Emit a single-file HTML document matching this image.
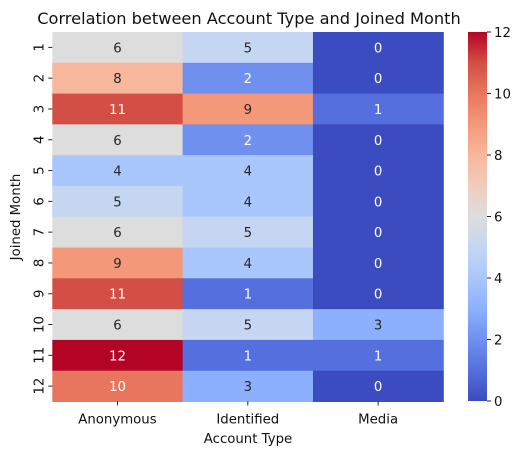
<!DOCTYPE html>
<html><head><meta charset="utf-8"><style>
body{margin:0;background:#fff;font-family:"Liberation Sans","DejaVu Sans",sans-serif}
svg text{font-family:"DejaVu Sans","Liberation Sans",sans-serif}
</style></head><body>
<svg id="chart" width="530" height="455" xmlns="http://www.w3.org/2000/svg">
<text x="249" y="24" text-anchor="middle" font-size="16.2" fill="#111">Correlation between Account Type and Joined Month</text>
<g id="cells"></g>
<g id="axes"></g>
<defs><linearGradient id="cw" x1="0" y1="1" x2="0" y2="0"></linearGradient></defs>
<rect x="468" y="32" width="19" height="369" fill="url(#cw)"/>
<g id="cbar"></g>
<text x="248" y="443" text-anchor="middle" font-size="13.3" fill="#111">Account Type</text>
<text transform="translate(20,217) rotate(-90)" text-anchor="middle" font-size="13.3" fill="#111">Joined Month</text>
</svg>
<script>
const categories = ["Anonymous","Identified","Media"];
const months = ["1","2","3","4","5","6","7","8","9","10","11","12"];
const anonymous = [6,8,11,6,4,5,6,9,11,6,12,10];
const identified = [5,2,9,2,4,4,5,4,1,5,1,3];
const media = [0,0,1,0,0,0,0,0,0,3,1,0];
const colorTicks = [0,2,4,6,8,10,12];
const series = [anonymous, identified, media];
const vmin = 0, vmax = 12;
const X0=52.3, X1=443.3, Y0=32, Y1=401.5;
const cw=(X1-X0)/categories.length, rh=(Y1-Y0)/months.length;
const stops=[[59,76,192],[85,112,222],[112,144,240],[141,176,254],[170,199,253],[197,214,242],[221,221,221],[240,205,187],[246,183,156],[244,152,122],[232,118,95],[211,79,69],[180,4,38]];
function color(v){const t=Math.max(0,Math.min(1,(v-vmin)/(vmax-vmin)))*(stops.length-1);const i=Math.min(Math.floor(t),stops.length-2),f=t-i;const c=stops[i].map((a,k)=>Math.round(a+(stops[i+1][k]-a)*f));return `rgb(${c})`;}
function lum(v){const t=(v-vmin)/(vmax-vmin);return t<0.2||t>0.8;}
const NS="http://www.w3.org/2000/svg";
function mk(tag,attrs,parent,txt){const e=document.createElementNS(NS,tag);for(const k in attrs)e.setAttribute(k,attrs[k]);if(txt!==undefined)e.textContent=txt;parent.appendChild(e);return e;}
const cells=document.getElementById('cells'),axes=document.getElementById('axes');
series.forEach((s,c)=>s.forEach((v,r)=>{
 const rect=mk('rect',{x:X0+c*cw,y:Y0+r*rh,width:cw+0.5,height:rh+0.5,fill:color(v)},cells);
 
 
 const t=mk('text',{x:X0+(c+0.5)*cw,y:Y0+(r+0.5)*rh+5,'text-anchor':'middle','font-size':'13.3',fill:lum(v)?'#fff':'#262626'},cells,String(v));
 
 
}));
categories.forEach((n,c)=>{const x=X0+(c+0.5)*cw;
 mk('line',{x1:x,x2:x,y1:Y1,y2:Y1+4,stroke:'#222'},axes);
 const t=mk('text',{x:x,y:Y1+22,'text-anchor':'middle','font-size':'13.3',fill:'#111'},axes,n);
 
 });
months.forEach((m,r)=>{const y=Y0+(r+0.5)*rh;
 mk('line',{x1:X0-4,x2:X0,y1:y,y2:y,stroke:'#222'},axes);
 const t=mk('text',{transform:`translate(${X0-9},${y}) rotate(-90)`,'text-anchor':'middle','font-size':'13.3',fill:'#111'},axes,m);
 
 });
const g=document.getElementById('cw');
stops.forEach((c,i)=>mk('stop',{offset:i/(stops.length-1),'stop-color':`rgb(${c})`},g));
const cb=document.getElementById('cbar');
colorTicks.forEach(v=>{const y=401-(v-vmin)/(vmax-vmin)*369;
 mk('line',{x1:487,x2:491,y1:y,y2:y,stroke:'#222'},cb);
 const t=mk('text',{x:494,y:y+5,'font-size':'13.3',fill:'#111'},cb,String(v));
 
 });
</script>
</body></html>
